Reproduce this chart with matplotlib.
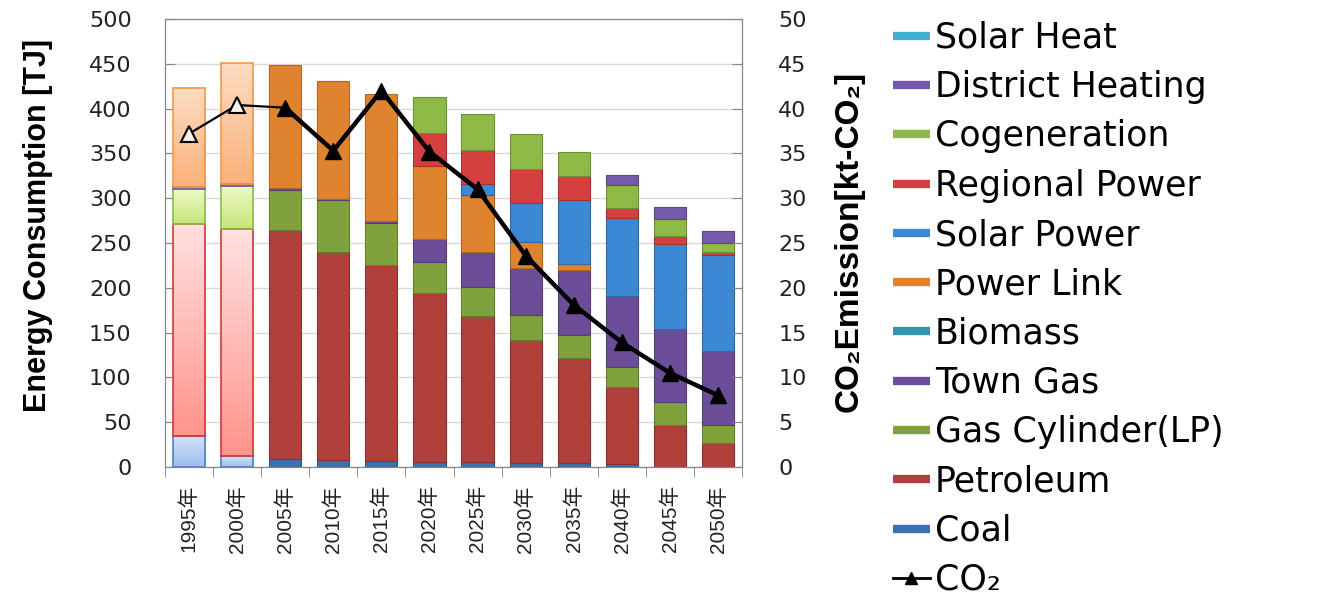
import numpy as np
import matplotlib
matplotlib.use("Agg")
import matplotlib.pyplot as plt
from matplotlib.lines import Line2D
from matplotlib.colors import to_rgb

# ---- data -------------------------------------------------------------
years = ['1995年', '2000年', '2005年', '2010年', '2015年', '2020年',
         '2025年', '2030年', '2035年', '2040年', '2045年', '2050年']

coal             = [35, 12, 9, 8, 7, 6, 6, 5, 4.5, 3.5, 0, 0]
petroleum        = [236, 254, 255, 232, 218, 188, 163, 137, 117, 86, 47, 27]
gas_cylinder     = [39, 48, 45, 58, 47, 35, 32, 28, 26, 22, 25, 20]
town_gas         = [2, 2, 2, 1.5, 2, 25, 39, 52, 72, 79, 82, 83]
biomass          = [0, 0, 0, 0, 0, 0, 0, 0, 0, 0, 0, 0]
power_link       = [111, 135, 138, 131, 142, 82, 64, 29, 7, 0, 0, 0]
solar_power      = [0, 0, 0, 0, 0, 0, 12, 43.5, 72, 87, 95, 107]
regional_power   = [0, 0, 0, 0, 0, 37, 38, 38, 26, 12, 9, 3]
cogeneration     = [0, 0, 0, 0, 0, 40, 40, 39, 27, 25, 19, 10]
district_heating = [0, 0, 0, 0, 0, 0, 0, 0, 0, 11.5, 13, 13.5]
solar_heat       = [0, 0, 0, 0, 0, 0, 0, 0, 0, 0, 0, 0]

co2 = [37.2, 40.4, 40.1, 35.3, 42.0, 35.2, 31.0, 23.6, 18.1, 13.9, 10.5, 8.0]

# historical (light, gradient) columns
n_hist = 2

# stacking order bottom -> top
series = [
    ("Coal", coal, "#3B70B2"),
    ("Petroleum", petroleum, "#B0403C"),
    ("Gas Cylinder(LP)", gas_cylinder, "#7FA23C"),
    ("Town Gas", town_gas, "#6C4E98"),
    ("Biomass", biomass, "#3493AE"),
    ("Power Link", power_link, "#DF832E"),
    ("Solar Power", solar_power, "#3D88D4"),
    ("Regional Power", regional_power, "#D4403F"),
    ("Cogeneration", cogeneration, "#8DBA45"),
    ("District Heating", district_heating, "#7659AA"),
    ("Solar Heat", solar_heat, "#3FB2D2"),
]

# light gradient colours (top, bottom, edge) for the historical columns
light = {
    "Coal": ("#D2E2FA", "#9CC0EF", "#4F81BD"),
    "Petroleum": ("#FFE0E0", "#FF958C", "#D03A3A"),
    "Gas Cylinder(LP)": ("#EEF8C8", "#C6E67A", "#8DBA45"),
    "Town Gas": ("#D9CCEB", "#B9A3DA", "#7659AA"),
    "Power Link": ("#FDDCC2", "#FAB27A", "#F79646"),
}


def darker(c, f=0.78):
    r, g, b = to_rgb(c)
    return (r * f, g * f, b * f)


# ---- figure -----------------------------------------------------------
fig = plt.figure(figsize=(13.29, 6.03), dpi=100)
ax = fig.add_axes([165 / 1329, 1 - 467 / 603, (742 - 165) / 1329, (467 - 19) / 603])

x = np.arange(len(years))
width = 0.67
bottom = np.zeros(len(years))
grad = np.linspace(0, 1, 64).reshape(-1, 1)

for name, vals, color in series:
    vals = np.asarray(vals, dtype=float)
    for i in range(len(years)):
        v = vals[i]
        if v <= 0:
            continue
        if i < n_hist and name in light:
            top_c, bot_c, edge_c = light[name]
            patch = ax.bar(x[i], v, width, bottom=bottom[i], facecolor="none",
                           edgecolor=edge_c, linewidth=1.2, zorder=3)[0]
            x0, y0 = patch.get_x(), patch.get_y()
            w, h = patch.get_width(), patch.get_height()
            t = np.array(to_rgb(top_c))
            b = np.array(to_rgb(bot_c))
            img = (t[None, None, :] * (1 - grad[:, :, None]) + b[None, None, :] * grad[:, :, None])
            ax.imshow(img, extent=(x0, x0 + w, y0, y0 + h), aspect="auto",
                      origin="upper", zorder=2, interpolation="bilinear")
        else:
            ax.bar(x[i], v, width, bottom=bottom[i], color=color,
                   edgecolor=darker(color), linewidth=0.8, zorder=2)
    bottom += vals

ax.set_xlim(-0.5, len(years) - 0.5)
ax.set_ylim(0, 500)
ax.set_yticks(np.arange(0, 501, 50))
ax.yaxis.grid(True, color="#D9D9D9", linewidth=1.0, zorder=0)
ax.set_axisbelow(True)

ax.set_xticks(x)
ax.set_xticklabels(years, rotation=90, fontsize=15,
                   family=["Liberation Sans", "Noto Sans CJK JP"])
ax.set_xticks(np.arange(-0.5, len(years), 1), minor=True)
ax.tick_params(axis="x", which="major", length=0, pad=13, colors="#222222")
ax.tick_params(axis="x", which="minor", length=7, direction="out", color="#868686")
ax.tick_params(axis="y", length=7, direction="in", pad=24, labelsize=16,
               color="#868686", labelcolor="#222222")
for s in ax.spines.values():
    s.set_color("#868686")

# ---- CO2 line on the secondary axis ----------------------------------
ax2 = ax.twinx()
ax2.set_ylim(0, 50)
ax2.set_yticks(np.arange(0, 51, 5))
ax2.tick_params(axis="y", length=7, direction="in", pad=26, labelsize=16,
                color="#868686", labelcolor="#222222")
for s in ax2.spines.values():
    s.set_color("#868686")

ax2.plot(x[:n_hist + 1], co2[:n_hist + 1], color="black", lw=1.6, zorder=4)
ax2.plot(x[n_hist:], co2[n_hist:], color="black", lw=3.2, zorder=4)
ax2.plot(x[:n_hist], co2[:n_hist], ls="none", marker="^", ms=11,
         mfc="#F2F2F2", mec="black", mew=1.5, zorder=5)
ax2.plot(x[n_hist:], co2[n_hist:], ls="none", marker="^", ms=11,
         mfc="black", mec="black", zorder=5)

# ---- axis titles -----------------------------------------------------
label_font = ["Liberation Sans", "DejaVu Sans"]
fig.text(38 / 1329, 1 - 225 / 603, "Energy Consumption [TJ]", rotation=90,
         ha="center", va="center", fontsize=22, fontweight="bold", family=label_font)
fig.text(849 / 1329, 1 - 241 / 603, "CO₂Emission[kt-CO₂]", rotation=90,
         ha="center", va="center", fontsize=24, fontweight="bold", family=label_font)

# ---- legend ----------------------------------------------------------
handles = [Line2D([], [], color=c, lw=6, solid_capstyle="butt")
           for _, _, c in reversed(series)]
labels = [n for n, _, _ in reversed(series)]
handles.append(Line2D([], [], color="black", lw=2, marker="^", ms=9))
labels.append("CO₂")
fig.legend(handles, labels, loc="upper left", bbox_to_anchor=(879 / 1329, 1 - 7 / 603),
           frameon=False, handlelength=1.07, handletextpad=0.14,
           labelspacing=0.44, borderaxespad=0,
           prop={"family": ["DejaVu Sans"], "size": 25})

fig.savefig("out.png", dpi=100)
